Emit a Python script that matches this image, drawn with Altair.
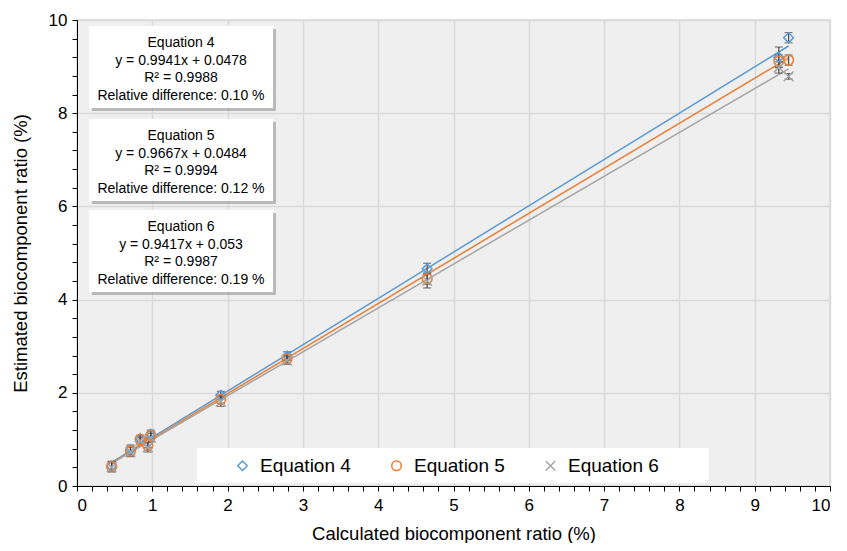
import altair as alt
import pandas as pd

# ---------------- data ----------------
series_names = ["Equation 4", "Equation 5", "Equation 6"]
series_colors = ["#5B9BD5", "#ED7D31", "#A5A5A5"]
series_shapes = ["diamond", "circle", "M-1,-1L1,1M1,-1L-1,1"]

x_calc = [0.46, 0.71, 0.84, 0.94, 0.98, 1.91, 2.79, 4.65, 9.32, 9.45]
est_eq4 = [0.43, 0.78, 1.02, 0.93, 1.11, 1.95, 2.79, 4.66, 9.20, 9.62]
est_eq5 = [0.42, 0.75, 1.00, 0.87, 1.08, 1.86, 2.73, 4.45, 9.12, 9.14]
est_eq6 = [0.40, 0.73, 0.97, 0.83, 1.04, 1.81, 2.69, 4.40, 8.98, 8.79]
err_eq4 = [0.10, 0.10, 0.07, 0.10, 0.09, 0.08, 0.09, 0.12, 0.22, 0.11]
err_eq5 = [0.10, 0.10, 0.07, 0.10, 0.09, 0.09, 0.08, 0.12, 0.13, 0.11]
err_eq6 = [0.10, 0.10, 0.07, 0.10, 0.09, 0.10, 0.08, 0.15, 0.12, 0.06]

slopes = ["0.9941", "0.9667", "0.9417"]
intercepts = ["0.0478", "0.0484", "0.053"]
r2_values = ["0.9988", "0.9994", "0.9987"]
rel_diffs = ["0.10", "0.12", "0.19"]

x_ticks = [round(i * 0.2, 1) for i in range(51)]
y_ticks = [round(i * 0.4, 1) for i in range(26)]

# ---------------- tables ----------------
rows = []
for name, ys, es in zip(series_names, [est_eq4, est_eq5, est_eq6], [err_eq4, err_eq5, err_eq6]):
    for x, y, e in zip(x_calc, ys, es):
        rows.append({"series": name, "x": x, "y": y, "lo": y - e, "hi": y + e})
df = pd.DataFrame(rows)

line_rows = []
for name, s, b in zip(series_names, slopes, intercepts):
    for x in (min(x_calc), max(x_calc)):
        line_rows.append({"series": name, "x": x, "slope": float(s), "intercept": float(b)})
df_lines = pd.DataFrame(line_rows)

FONT = "Liberation Sans"
xs = alt.Scale(domain=[0, 10], nice=False, zero=False)
ys = alt.Scale(domain=[0, 10], nice=False, zero=False)

x_axis = alt.Axis(
    values=x_ticks, tickCount=200,
    labelExpr="abs(datum.value - round(datum.value)) < 0.001 ? format(datum.value, 'd') : ''",
    gridOpacity={"condition": {"test": "abs(datum.value - round(datum.value)) < 0.001 && datum.value > 0", "value": 1}, "value": 0},
    tickSize=5, labelPadding=6, titlePadding=11, labelOverlap=False,
)
y_axis = alt.Axis(
    values=y_ticks, tickCount=200,
    labelExpr="abs(datum.value / 2 - round(datum.value / 2)) < 0.001 ? format(datum.value, 'd') : ''",
    gridOpacity={"condition": {"test": "abs(datum.value / 2 - round(datum.value / 2)) < 0.001 && datum.value > 0", "value": 1}, "value": 0},
    tickSize=5, labelPadding=5, titlePadding=18, labelOverlap=False,
)

X = alt.X("x:Q", scale=xs, axis=x_axis, title="Calculated biocomponent ratio (%)")
Y = alt.Y("y:Q", scale=ys, axis=y_axis, title="Estimated biocomponent ratio (%)")

legend = alt.Legend(
    title=None, orient="none", legendX=156, legendY=436, direction="horizontal",
    labelFontSize=19, labelFont=FONT, labelColor="#000000", symbolSize=90, symbolStrokeWidth=1.5,
    columnPadding=36, labelOffset=8, padding=0,
)
color = alt.Color("series:N", scale=alt.Scale(domain=series_names, range=series_colors), legend=legend)
shape = alt.Shape("series:N", scale=alt.Scale(domain=series_names, range=series_shapes), legend=legend)

base = alt.Chart(df)

line_layers = []
for name, col in zip(series_names, series_colors):
    line_layers.append(
        alt.Chart(df_lines).transform_filter(alt.datum.series == name).transform_calculate(
            y="datum.slope * datum.x + datum.intercept"
        ).mark_line(strokeWidth=1.5, color=col).encode(x=X, y=Y)
    )

EB = "#4a4a4a"
err_rules = base.mark_rule(color=EB, strokeWidth=1.2).encode(
    x=alt.X("x:Q", scale=xs), y=alt.Y("lo:Q", scale=ys), y2="hi:Q"
)
err_lo = base.mark_tick(color=EB, orient="horizontal", size=8, thickness=1.2).encode(
    x=alt.X("x:Q", scale=xs), y=alt.Y("lo:Q", scale=ys)
)
err_hi = base.mark_tick(color=EB, orient="horizontal", size=8, thickness=1.2).encode(
    x=alt.X("x:Q", scale=xs), y=alt.Y("hi:Q", scale=ys)
)

points = base.mark_point(filled=False, strokeWidth=1.5, opacity=1, size=95).encode(
    x=X, y=Y, color=color, shape=shape,
)

one = pd.DataFrame({"k": [0]})
legend_bg = alt.Chart(one).mark_rect(color="white").encode(
    x=alt.value(120), x2=alt.value(632), y=alt.value(428), y2=alt.value(463)
)

box_tops = [6, 99, 190]
box_h = 82
ann_layers = []
for i, top in enumerate(box_tops):
    txt = (f"{series_names[i]}\ny = {slopes[i]}x + {intercepts[i]}\nR\u00b2 = {r2_values[i]}"
           f"\nRelative difference: {rel_diffs[i]} %")
    shadow = alt.Chart(one).mark_rect(color="#8c8c8c", opacity=0.55).encode(
        x=alt.value(15), x2=alt.value(199), y=alt.value(top + 3), y2=alt.value(top + box_h + 3)
    )
    box = alt.Chart(one).mark_rect(color="white").encode(
        x=alt.value(12), x2=alt.value(196), y=alt.value(top), y2=alt.value(top + box_h)
    )
    text = alt.Chart(one).mark_text(
        text=txt, lineBreak="\n", align="center", baseline="top", font=FONT, fontSize=14,
        lineHeight=17.5, color="#000000"
    ).encode(x=alt.value(104), y=alt.value(top + 10))
    ann_layers += [shadow, box, text]

chart = alt.layer(
    legend_bg, *line_layers, err_rules, err_lo, err_hi, points, *ann_layers
).properties(
    width=753, height=466,
    autosize=alt.AutoSizeParams(type="none"),
    padding={"left": 69, "top": 12, "right": 9, "bottom": 57},
).configure_view(
    fill="#EFEFEF", stroke="#D9D9D9", strokeWidth=1.5
).configure_axis(
    labelFont=FONT, titleFont=FONT, labelFontSize=17, titleFontSize=18.5,
    labelColor="#000000", titleColor="#000000", titleFontWeight="normal",
    domainColor="#000000", tickColor="#000000", domainWidth=1, tickWidth=1,
    gridColor="#D9D9D9", gridWidth=1.5,
)

chart.save("out.html", embed_options={"renderer": "svg", "actions": False})
